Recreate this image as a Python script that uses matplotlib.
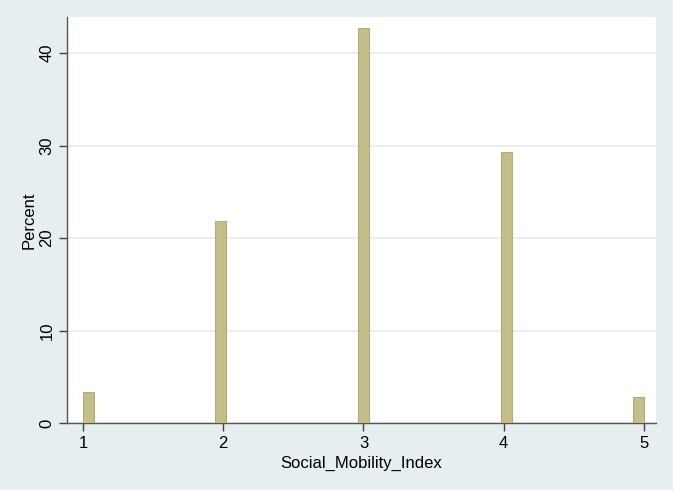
import numpy as np
import matplotlib
matplotlib.use('Agg')
import matplotlib.pyplot as plt

# data: percent of observations at each index value
index_values = [1, 2, 3, 4, 5]
percents = [3.4, 21.8, 42.7, 29.3, 2.8]
y_ticks = [0, 10, 20, 30, 40]
x_ticks = [1, 2, 3, 4, 5]

plt.rcParams['font.family'] = ['Liberation Sans', 'DejaVu Sans']

bg = '#e6eef0'
fig = plt.figure(figsize=(6.73, 4.90), dpi=100, facecolor=bg)
ax = fig.add_axes([67 / 673, 67 / 490, 589 / 673, 406 / 490])
ax.set_facecolor('white')

# stata-like histogram: 51 bins between min and max
heights, edges = np.histogram(index_values, bins=51, range=(1, 5), weights=percents)
widths = np.diff(edges)
keep = heights > 0
ax.bar(edges[:-1][keep], heights[keep], width=widths[keep], align='edge',
       color='#c4be8b', edgecolor='#b3ab78', linewidth=0.8, zorder=3)

ax.set_xlim(0.886, 5.086)
ax.set_ylim(0, 43.9)
ax.set_xticks(x_ticks)
ax.set_yticks(y_ticks)
ax.grid(axis='y', color='#e8eff1', linewidth=1.3, zorder=0)

for s in ['top', 'right']:
    ax.spines[s].set_visible(False)
for s in ['left', 'bottom']:
    ax.spines[s].set_color('#555555')
    ax.spines[s].set_linewidth(1.0)
ax.tick_params(direction='out', length=6, width=1.0, color='#444444',
               labelsize=12, labelcolor='black', pad=3)
plt.setp(ax.get_yticklabels(), rotation=90, va='center')

ax.set_xlabel('Social_Mobility_Index', fontsize=12, labelpad=4)
ax.set_ylabel('Percent', fontsize=12, labelpad=2)

fig.savefig('out.png', dpi=100, facecolor=bg)
